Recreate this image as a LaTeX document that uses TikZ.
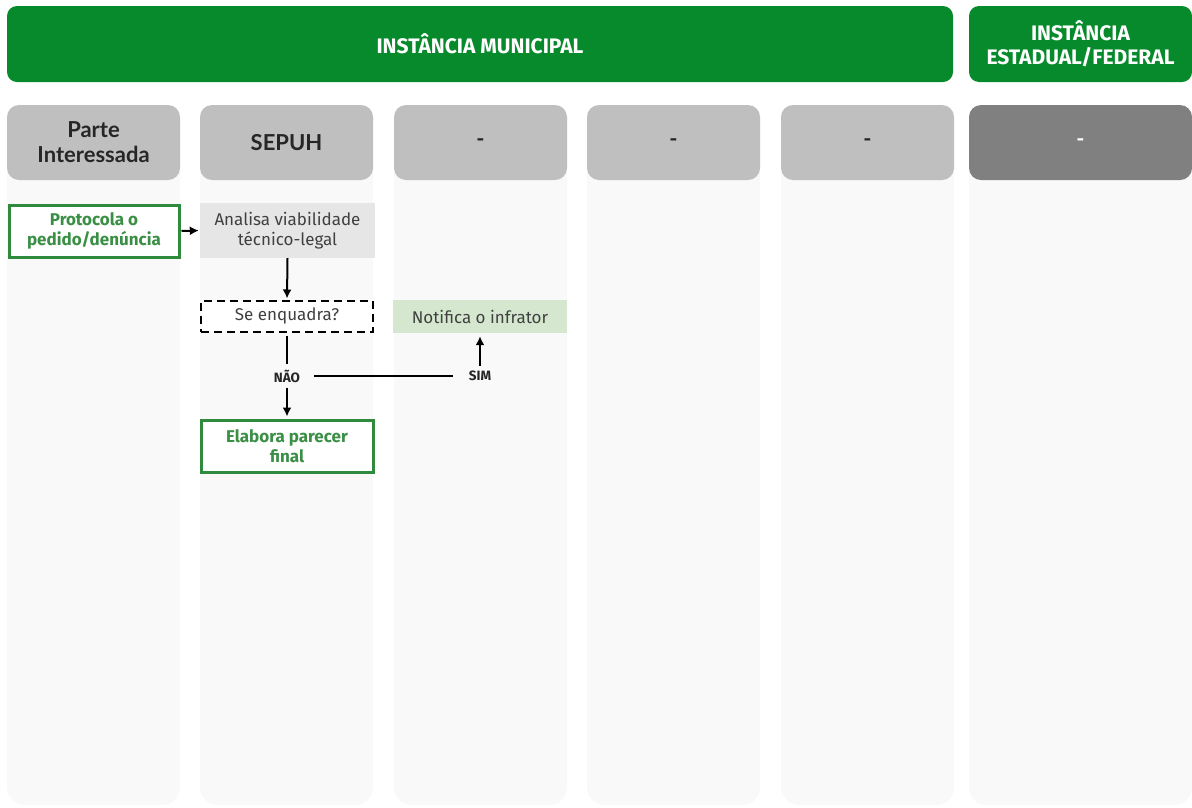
\documentclass[tikz,border=0pt]{standalone}
\usepackage{fontspec}
\setmainfont{Fira Sans}
\newfontfamily\headfont{Lato}
\usetikzlibrary{arrows.meta}
\definecolor{bandgreen}{HTML}{078A2B}
\definecolor{boxgreen}{HTML}{2E8B3E}
\definecolor{txtgreen}{HTML}{3A8F45}
\definecolor{lanehead}{HTML}{BFBFBF}
\definecolor{lanedark}{HTML}{808080}
\definecolor{lanebody}{HTML}{F9F9F9}
\definecolor{taskgray}{HTML}{E6E6E6}
\definecolor{taskgreen}{HTML}{D5E8CF}
\definecolor{txtgray}{HTML}{404040}
\tikzset{
  band/.style={fill=bandgreen, rounded corners=10pt, text=white, font=\bfseries\fontsize{21}{24}\selectfont, align=center},
  lhead/.style={fill=lanehead, rounded corners=12pt, font=\headfont\bfseries\fontsize{22}{25}\selectfont, text=black!85, align=center},
  lbody/.style={fill=lanebody, rounded corners=18pt},
  gbox/.style={draw=boxgreen, line width=3pt, fill=white, text=txtgreen, font=\bfseries\fontsize{17}{20}\selectfont, align=center},
  graybox/.style={fill=taskgray, text=txtgray, font=\fontsize{17}{20}\selectfont, align=center},
  dashbox/.style={draw=black, line width=2pt, dash pattern=on 8pt off 5pt, fill=white, text=txtgray, font=\fontsize{17}{20}\selectfont},
  lgbox/.style={fill=taskgreen, text=txtgray, font=\fontsize{17}{20}\selectfont},
  lbl/.style={font=\bfseries\fontsize{13.5}{16}\selectfont, text=black!85, inner sep=5pt},
  flow/.style={line width=2pt, -{Latex[length=9pt,width=9pt]}},
  plain/.style={line width=2pt}
}
\begin{document}
\begin{tikzpicture}[x=1pt,y=-1pt]
\useasboundingbox (0,0) rectangle (1192,807);
\fill[white] (0,0) rectangle (1192,807);
% lane bodies
\foreach \xa/\xb in {7/180, 200/373, 394/567, 587/760, 781/954, 969/1192}{
  \path[lbody] (\xa,105) rectangle (\xb,805);
}
% top bands
\node[band, minimum width=946pt, minimum height=76pt] (munic) at (480,44) {INSTÂNCIA MUNICIPAL};
\node[band, minimum width=223pt, minimum height=76pt] (estfed) at (1080.5,44) {INSTÂNCIA\\ESTADUAL/FEDERAL};
% lane headers
\node[lhead, minimum width=173pt, minimum height=75pt] (h1) at (93.5,142.5) {Parte\\Interessada};
\node[lhead, minimum width=173pt, minimum height=75pt] (h2) at (286.5,142.5) {SEPUH};
\node[lhead, minimum width=173pt, minimum height=75pt] (h3) at (480.5,142.5) {-};
\node[lhead, minimum width=173pt, minimum height=75pt] (h4) at (673.5,142.5) {-};
\node[lhead, minimum width=173pt, minimum height=75pt] (h5) at (867.5,142.5) {-};
\node[lhead, fill=lanedark, text=white, minimum width=223pt, minimum height=75pt] (h6) at (1080.5,142.5) {-};
% tasks
\node[gbox, minimum width=170pt, minimum height=52pt] (prot) at (94,231) {Protocola o\\pedido/denúncia};
\node[graybox, minimum width=175pt, minimum height=55pt] (anal) at (287.5,230.5) {Analisa viabilidade\\técnico-legal};
\node[dashbox, minimum width=172pt, minimum height=31pt] (enq) at (287,316) {Se enquadra?};
\node[lgbox, minimum width=174pt, minimum height=33pt] (notif) at (480,316.5) {Notifica o infrator};
\node[gbox, minimum width=172pt, minimum height=52pt] (elab) at (287,446) {Elabora parecer\\final};
% decision labels
\node[lbl] (nao) at (287,376) {NÃO};
\node[lbl] (sim) at (480,376) {SIM};
% connectors
\draw[flow, shorten <=1pt, shorten >=1pt] (prot.east) -- (anal.west);
\draw[flow, shorten >=1pt] (anal.south) -- (enq.north);
\draw[plain, shorten <=3pt] (enq.south) -- (nao.north);
\draw[plain, shorten <=9pt, shorten >=11pt] (nao.east) -- (sim.west);
\draw[flow, shorten >=3pt] (sim.north) -- (notif.south);
\draw[flow, shorten >=2pt] (nao.south) -- (elab.north);
\end{tikzpicture}
\end{document}
